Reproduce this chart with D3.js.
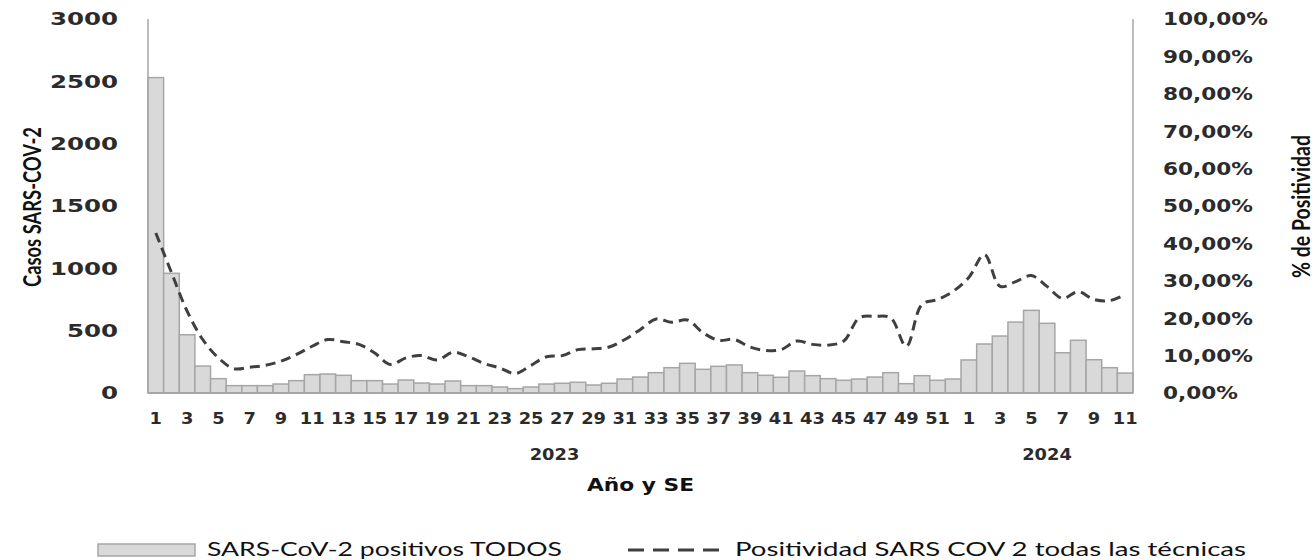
<!DOCTYPE html>
<html>
<head>
<meta charset="utf-8">
<script src="https://cdn.jsdelivr.net/npm/d3@7"></script>
<style>
  body { margin: 0; background: #fff; }
  svg { display: block; }
</style>
</head>
<body>
<svg id="chart"></svg>
<script>
// semanas epidemiológicas (2023: 1-52, 2024: 1-11)
const anios = ['2023', '2024'];
const semanas2023 = [1,2,3,4,5,6,7,8,9,10,11,12,13,14,15,16,17,18,19,20,21,22,23,24,25,26,
  27,28,29,30,31,32,33,34,35,36,37,38,39,40,41,42,43,44,45,46,47,48,49,50,51,52];
const semanas2024 = [1,2,3,4,5,6,7,8,9,10,11];

// casos positivos SARS-CoV-2 (barras)
const casos2023 = [2530, 960, 467, 216, 115, 59, 59, 59, 72, 99, 147, 152, 142, 99, 99, 72,
  104, 80, 72, 96, 59, 59, 48, 35, 48, 72, 78, 86, 64, 78, 112, 128, 163, 203, 238, 190,
  214, 225, 163, 142, 126, 176, 139, 115, 102, 112, 128, 163, 75, 139, 102, 112];
const casos2024 = [265, 393, 457, 569, 663, 559, 323, 423, 267, 203, 160];

// % de positividad (línea)
const positividad2023 = [42.8, 32.2, 21.9, 14.3, 9.4, 6.5, 6.9, 7.4, 8.5, 10.3, 12.5, 14.3,
  13.7, 13.0, 10.7, 7.6, 9.4, 10.0, 8.8, 10.9, 9.7, 7.9, 6.7, 5.2, 7.4, 9.7, 10.0, 11.6, 11.8,
  12.3, 14.3, 17.0, 19.8, 18.9, 19.5, 16.1, 14.1, 14.3, 12.3, 11.4, 11.6, 13.9, 13.0, 12.8,
  13.9, 20.1, 20.5, 20.1, 12.5, 23.7, 25.0, 27.2];
const positividad2024 = [30.9, 37.0, 28.5, 29.8, 31.4, 28.5, 25.3, 27.1, 25.0, 24.7, 26.3];

const ticksCasos = [0, 500, 1000, 1500, 2000, 2500, 3000];
const ticksPct = [0, 10, 20, 30, 40, 50, 60, 70, 80, 90, 100];

// armar tabla
const data = [];
semanas2023.forEach((s, i) => data.push({ key: '2023-' + s, anio: '2023', semana: s, casos: casos2023[i], pct: positividad2023[i] }));
semanas2024.forEach((s, i) => data.push({ key: '2024-' + s, anio: '2024', semana: s, casos: casos2024[i], pct: positividad2024[i] }));

const width = 1316, height = 560;
const plot = { left: 148, right: 1133, top: 19, bottom: 393 };

const svg = d3.select('#chart').attr('width', width).attr('height', height);
svg.append('rect').attr('width', width).attr('height', height).attr('fill', '#fff');

const x = d3.scaleBand().domain(data.map(d => d.key)).range([plot.left, plot.right]).padding(0);
const yL = d3.scaleLinear().domain([0, 3000]).range([plot.bottom, plot.top]);
const yR = d3.scaleLinear().domain([0, 100]).range([plot.bottom, plot.top]);

const tickFont = '"DejaVu Sans", Verdana, sans-serif';
const labelFont = 'Lato, "Open Sans", sans-serif';
const textColor = '#2b2b2b';

// barras
svg.append('g').selectAll('rect')
  .data(data)
  .enter()
  .append('rect')
  .attr('x', d => x(d.key))
  .attr('y', d => yL(d.casos))
  .attr('width', x.bandwidth())
  .attr('height', d => yL(0) - yL(d.casos))
  .attr('fill', '#d9d9d9')
  .attr('stroke', '#a6a6a6')
  .attr('stroke-width', 1.5);

// ejes (solo líneas)
const axisColor = '#a6a6a6';
svg.append('line').attr('x1', plot.left).attr('x2', plot.left).attr('y1', plot.top).attr('y2', plot.bottom)
  .attr('stroke', axisColor).attr('stroke-width', 1.5);
svg.append('line').attr('x1', plot.right).attr('x2', plot.right).attr('y1', plot.top).attr('y2', plot.bottom)
  .attr('stroke', axisColor).attr('stroke-width', 1.5);
svg.append('line').attr('x1', plot.left).attr('x2', plot.right).attr('y1', plot.bottom).attr('y2', plot.bottom)
  .attr('stroke', axisColor).attr('stroke-width', 2);

// línea de positividad
const line = d3.line()
  .x(d => x(d.key) + x.bandwidth() / 2)
  .y(d => yR(d.pct))
  .curve(d3.curveCatmullRom.alpha(0.5));

svg.append('path')
  .datum(data)
  .attr('d', line)
  .attr('fill', 'none')
  .attr('stroke', '#3f3f3f')
  .attr('stroke-width', 3)
  .attr('stroke-dasharray', '10,6');

// etiquetas eje izquierdo
svg.append('g').selectAll('text')
  .data(ticksCasos)
  .enter()
  .append('text')
  .attr('transform', d => `translate(118,${yL(d)}) scale(1.36,1)`)
  .attr('dy', '0.36em')
  .attr('text-anchor', 'end')
  .style('font-family', tickFont)
  .style('font-size', '18px')
  .style('font-weight', 'bold')
  .attr('fill', textColor)
  .text(d => d);

// etiquetas eje derecho
const fmtPct = v => d3.format('.2f')(v).replace('.', ',') + '%';
svg.append('g').selectAll('text')
  .data(ticksPct)
  .enter()
  .append('text')
  .attr('transform', d => `translate(1163,${yR(d)}) scale(1.2,1)`)
  .attr('dy', '0.36em')
  .attr('text-anchor', 'start')
  .style('font-family', tickFont)
  .style('font-size', '18px')
  .style('font-weight', 'bold')
  .attr('fill', textColor)
  .text(d => fmtPct(d));

// semanas impares en eje X
svg.append('g').selectAll('text')
  .data(data.filter(d => d.semana % 2 === 1))
  .enter()
  .append('text')
  .attr('transform', d => `translate(${x(d.key) + x.bandwidth() / 2},424) scale(1.08,1)`)
  .attr('text-anchor', 'middle')
  .style('font-family', tickFont)
  .style('font-size', '16.5px')
  .style('font-weight', 'bold')
  .attr('fill', textColor)
  .text(d => d.semana);

// años
anios.forEach(a => {
  const grupo = data.filter(d => d.anio === a);
  const x0 = x(grupo[0].key);
  const x1 = x(grupo[grupo.length - 1].key) + x.bandwidth();
  svg.append('text')
    .attr('transform', `translate(${(x0 + x1) / 2},460) scale(1.08,1)`)
    .attr('text-anchor', 'middle')
    .style('font-family', tickFont)
    .style('font-size', '16.5px')
    .style('font-weight', 'bold')
    .attr('fill', textColor)
    .text(a);
});

// título eje X
svg.append('text')
  .attr('x', 587)
  .attr('y', 491)
  .attr('textLength', 107)
  .attr('lengthAdjust', 'spacingAndGlyphs')
  .style('font-family', tickFont)
  .style('font-size', '18px')
  .style('font-weight', 'bold')
  .attr('fill', '#111')
  .text('Año y SE');

// títulos ejes Y
svg.append('text')
  .attr('transform', 'translate(41,287) rotate(-90)')
  .attr('textLength', 160)
  .attr('lengthAdjust', 'spacingAndGlyphs')
  .style('font-family', labelFont)
  .style('font-size', '25px')
  .style('font-weight', 'bold')
  .attr('fill', '#111')
  .text('Casos SARS-COV-2');

svg.append('text')
  .attr('transform', 'translate(1310,278) rotate(-90)')
  .attr('textLength', 143)
  .attr('lengthAdjust', 'spacingAndGlyphs')
  .style('font-family', labelFont)
  .style('font-size', '25px')
  .style('font-weight', 'bold')
  .attr('fill', '#111')
  .text('% de Positividad');

// leyenda
const legend = svg.append('g');
legend.append('rect')
  .attr('x', 98).attr('y', 544).attr('width', 97).attr('height', 12)
  .attr('fill', '#d9d9d9').attr('stroke', '#a6a6a6').attr('stroke-width', 1.5);
legend.append('text')
  .attr('x', 207).attr('y', 556)
  .attr('textLength', 355)
  .attr('lengthAdjust', 'spacingAndGlyphs')
  .style('font-family', labelFont)
  .style('font-size', '19px')
  .attr('fill', '#111')
  .text('SARS-CoV-2 positivos TODOS');
legend.append('line')
  .attr('x1', 628).attr('x2', 721).attr('y1', 550).attr('y2', 550)
  .attr('stroke', '#3f3f3f').attr('stroke-width', 3)
  .attr('stroke-dasharray', '16,9');
legend.append('text')
  .attr('x', 735).attr('y', 556)
  .attr('textLength', 511)
  .attr('lengthAdjust', 'spacingAndGlyphs')
  .style('font-family', labelFont)
  .style('font-size', '19px')
  .attr('fill', '#111')
  .text('Positividad SARS COV 2 todas las técnicas');
</script>
</body>
</html>
